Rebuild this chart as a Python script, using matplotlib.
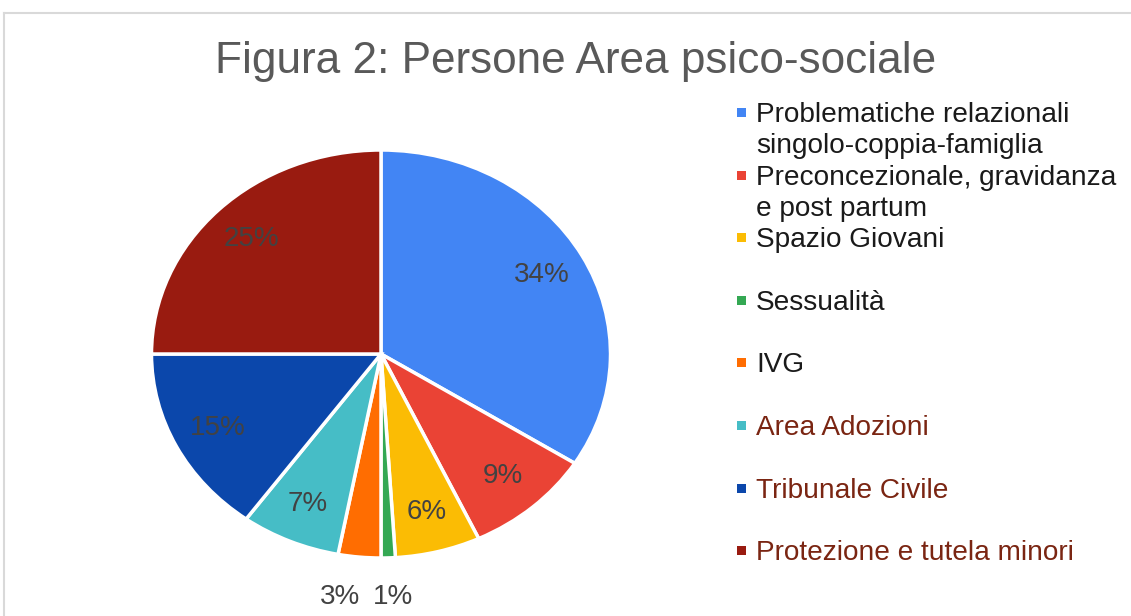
import numpy as np
import matplotlib.pyplot as plt
from matplotlib.lines import Line2D

plt.rcParams['font.family'] = ['Liberation Sans', 'DejaVu Sans']

# data
categories = ['Problematiche relazionali\nsingolo-coppia-famiglia',
              'Preconcezionale, gravidanza\ne post partum',
              'Spazio Giovani',
              'Sessualità',
              'IVG',
              'Area Adozioni',
              'Tribunale Civile',
              'Protezione e tutela minori']
values = [34, 9, 6, 1, 3, 7, 15, 25]
colors = ['#4285F4', '#EA4335', '#FBBC04', '#34A853',
          '#FF6D01', '#46BDC6', '#0B47AB', '#991B10']
label_colors = ['#1a1a1a'] * 5 + ['#7a2512'] * 3

W, H = 1131, 616
fig = plt.figure(figsize=(W / 100, H / 100), dpi=100)

# thin chart border (top and left only visible)
fig.add_artist(Line2D([4 / W, 1], [1 - 13 / H, 1 - 13 / H],
                      transform=fig.transFigure, color='#d9d9d9', lw=1.5))
fig.add_artist(Line2D([4 / W, 4 / W], [0, 1 - 13 / H],
                      transform=fig.transFigure, color='#d9d9d9', lw=1.5))

fig.text(576 / W, 1 - 62 / H, 'Figura 2: Persone Area psico-sociale',
         ha='center', va='center', fontsize=31.8, color='#595959')

# pie axes (stretched horizontally like the reference)
ax = fig.add_axes([151.5 / W, 1 - 558 / H, 459 / W, 408 / H])
wedges, texts, autotexts = ax.pie(
    values, colors=colors, startangle=90, counterclock=False,
    autopct='%1.0f%%', pctdistance=0.8,
    wedgeprops=dict(edgecolor='white', linewidth=2.5),
    textprops=dict(fontsize=20, color='#424242'))
ax.set_aspect('auto')
ax.set_xlim(-1, 1)
ax.set_ylim(-1, 1)

# small slices get their labels below the pie
small_pos = {3: (0.052, -1.19), 4: (-0.179, -1.19)}
for i, (x, y) in small_pos.items():
    autotexts[i].set_position((x, y))
    autotexts[i].set_clip_on(False)

# legend drawn by hand, one text per line
for i, (lab, c, tc) in enumerate(zip(categories, colors, label_colors)):
    y0 = 112 + 62.6 * i
    fig.patches.append(plt.Rectangle((737 / W, 1 - (y0 + 5) / H), 9 / W, 9 / H,
                                     transform=fig.transFigure,
                                     facecolor=c, edgecolor='none'))
    for j, line in enumerate(lab.split('\n')):
        fig.text(756 / W, 1 - (y0 + 31 * j) / H, line, ha='left',
                 va='center_baseline', fontsize=20.2, color=tc)

fig.savefig('out.png', dpi=100)
